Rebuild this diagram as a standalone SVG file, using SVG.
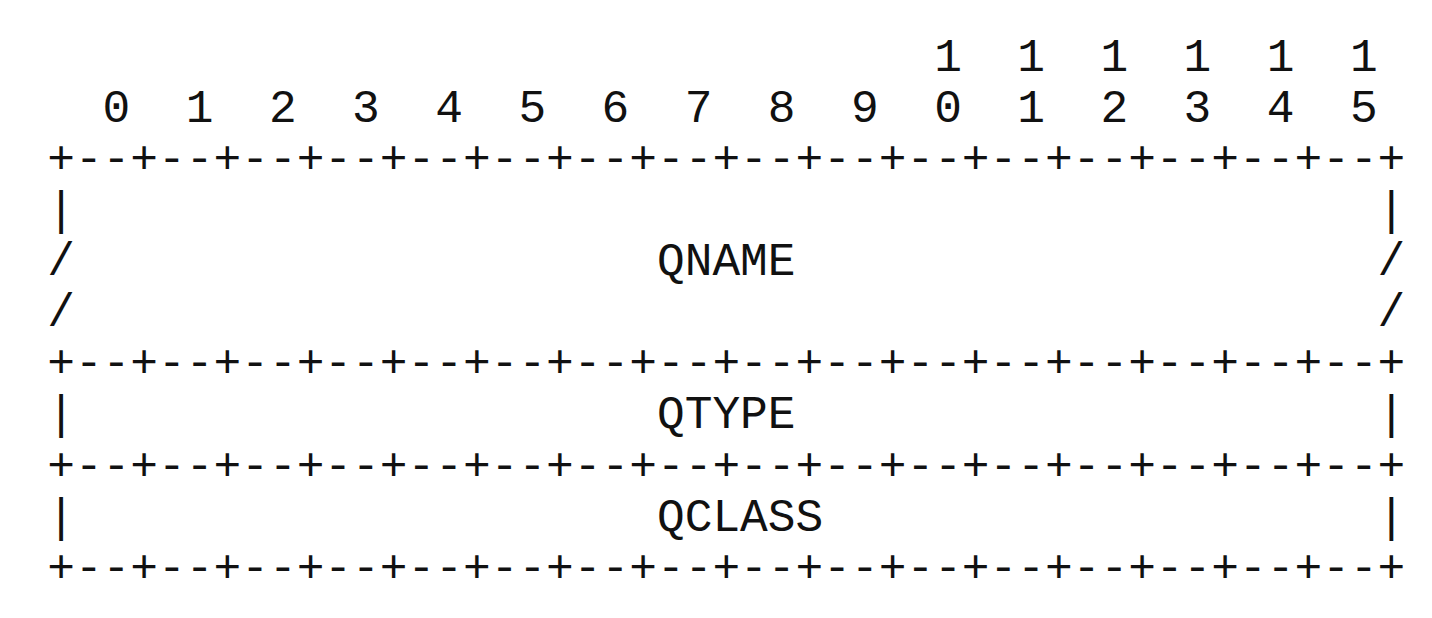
<svg xmlns="http://www.w3.org/2000/svg" width="1432" height="618" viewBox="0 0 1432 618">
<style>
text{font-family:"Liberation Mono","Courier New",monospace;font-size:46.2px;fill:#111;white-space:pre}
</style>
<rect width="1432" height="618" fill="#fff"/>
<g id="header">
<text x="47.2" y="71" xml:space="preserve">                                1  1  1  1  1  1</text>
<text x="47.2" y="122" xml:space="preserve">  0  1  2  3  4  5  6  7  8  9  0  1  2  3  4  5</text>
</g>
<g id="connectors">
<text x="47.2" y="173" xml:space="preserve">+--+--+--+--+--+--+--+--+--+--+--+--+--+--+--+--+</text>
<text x="47.2" y="377" xml:space="preserve">+--+--+--+--+--+--+--+--+--+--+--+--+--+--+--+--+</text>
<text x="47.2" y="480" xml:space="preserve">+--+--+--+--+--+--+--+--+--+--+--+--+--+--+--+--+</text>
<text x="47.2" y="582" xml:space="preserve">+--+--+--+--+--+--+--+--+--+--+--+--+--+--+--+--+</text>
</g>
<g id="qname">
<text x="47.2" y="224" xml:space="preserve">|                                               |</text>
<text x="47.2" y="275" xml:space="preserve">/                     QNAME                     /</text>
<text x="47.2" y="326" xml:space="preserve">/                                               /</text>
</g>
<g id="qtype">
<text x="47.2" y="428" xml:space="preserve">|                     QTYPE                     |</text>
</g>
<g id="qclass">
<text x="47.2" y="531" xml:space="preserve">|                     QCLASS                    |</text>
</g>
</svg>
